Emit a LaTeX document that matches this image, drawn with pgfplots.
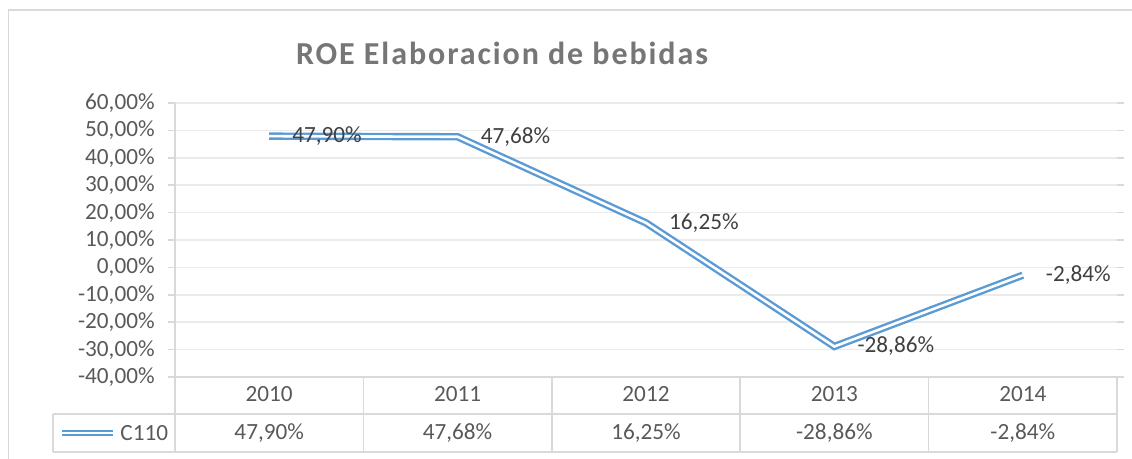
\documentclass[border=0pt]{standalone}
\usepackage{fontspec}
\setmainfont{Carlito}
\newfontfamily\titlefont[LetterSpace=6]{Carlito}
\usepackage{pgfplots}
\pgfplotsset{compat=1.18}
\usepackage{pgfplotstable}
\definecolor{lineblue}{RGB}{91,155,213}
\definecolor{gridc}{RGB}{235,235,235}
\definecolor{borderc}{RGB}{217,217,217}
\definecolor{tickc}{RGB}{89,89,89}
\definecolor{labc}{RGB}{64,64,64}
\definecolor{titlec}{RGB}{118,118,118}
\pgfplotstableread{
x year val lab row
0 2010 47.90 47,90 -40
1 2011 47.68 47,68 -40
2 2012 16.25 16,25 -40
3 2013 -28.86 -28,86 -40
4 2014 -2.84 -2,84 -40
}\roedata
\begin{document}
\begin{tikzpicture}[font=\fontsize{11.6}{13.5}\selectfont]
\path[use as bounding box] (-87.5pt,-41pt) rectangle (478.5pt,188.5pt);
\begin{axis}[
  at={(0,0)}, anchor=south west,
  scale only axis, width=471pt, height=137pt,
  xmin=-0.5, xmax=4.5, ymin=-40, ymax=60,
  axis line style={draw=none},
  xtick={0,1,2,3,4},
  xticklabels from table={\roedata}{year},
  xtick style={draw=none},
  xticklabel style={anchor=center, yshift=-5pt, text=tickc, inner sep=0pt},
  ytick={-40,-30,-20,-10,0,10,20,30,40,50,60},
  yticklabels={{-40,00\%},{-30,00\%},{-20,00\%},{-10,00\%},{0,00\%},{10,00\%},{20,00\%},{30,00\%},{40,00\%},{50,00\%},{60,00\%}},
  ymajorgrids, grid style={gridc, line width=0.75pt},
  tick align=outside, major tick length=3.5pt,
  ytick style={borderc, line width=0.75pt},
  yticklabel style={anchor=east, inner sep=0pt, text=tickc, xshift=-6.5pt},
  clip=false,
]
\addplot[lineblue, line width=1.2pt, double=white, double distance=1.3pt,
  nodes near coords={\pgfplotspointmeta\%}, point meta=explicit symbolic,
  every node near coord/.style={anchor=west, xshift=11pt, inner sep=0pt, text=labc}]
  table[x=x, y=val, meta=lab] {\roedata};
\addplot[draw=none, mark=none,
  nodes near coords={\pgfplotspointmeta\%}, point meta=explicit symbolic,
  every node near coord/.style={anchor=center, yshift=-28pt, inner sep=0pt, text=tickc}]
  table[x=x, y=row, meta=lab] {\roedata};
\end{axis}
\begin{scope}[borderc, line width=0.75pt]
  \draw (0,137pt) -- (0,-37.5pt);
  \draw (0,0) -- (471pt,0);
  \draw (-61pt,-18.5pt) -- (471pt,-18.5pt);
  \draw (-61pt,-37.5pt) -- (471pt,-37.5pt);
  \draw (-61pt,-18.5pt) -- (-61pt,-37.5pt);
  \foreach \k in {1,...,5} \draw (\k*94.2pt,0) -- (\k*94.2pt,-37.5pt);
  \draw (-83.25pt,-41pt) -- (-83.25pt,183.5pt) -- (478.5pt,183.5pt);
\end{scope}
\draw[lineblue, line width=0.9pt, double=white, double distance=1pt] (-56.5pt,-28pt) -- (-31pt,-28pt);
\node[anchor=west, inner sep=0pt, text=tickc] at (-27.5pt,-28pt) {C110};
\node[anchor=base, text=titlec, inner sep=0pt, font=\fontsize{16}{19}\selectfont\titlefont\bfseries] at (163.5pt,156pt) {ROE Elaboracion de bebidas};
\end{tikzpicture}
\end{document}
